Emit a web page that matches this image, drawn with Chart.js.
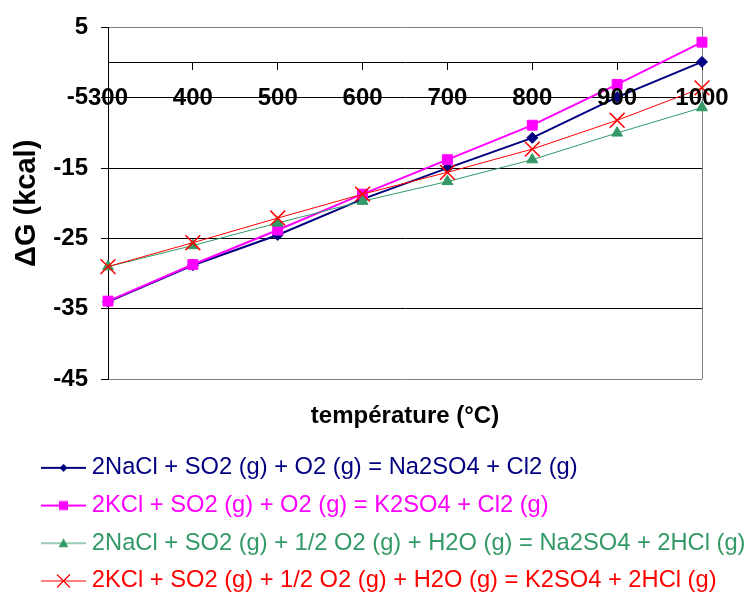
<!DOCTYPE html>
<html>
<head>
<meta charset="utf-8">
<script src="https://cdn.jsdelivr.net/npm/chart.js@4/dist/chart.umd.min.js"></script>
<style>
  html, body { margin: 0; padding: 0; background: #ffffff; }
  #wrap { width: 748px; height: 594px; }
</style>
</head>
<body>
<div id="wrap"><canvas id="c" width="748" height="594"></canvas></div>
<script>
const categories = ['300', '400', '500', '600', '700', '800', '900', '1000'];
const seriesNames = [
  '2NaCl + SO2 (g) + O2 (g) = Na2SO4 + Cl2 (g)',
  '2KCl + SO2 (g) + O2 (g) = K2SO4 + Cl2 (g)',
  '2NaCl + SO2 (g) + 1/2 O2 (g) + H2O (g) = Na2SO4 + 2HCl (g)',
  '2KCl + SO2 (g) + 1/2 O2 (g) + H2O (g) = K2SO4 + 2HCl (g)'
];
const naclCl2 = [-34.0, -28.8, -24.5, -19.4, -15.0, -10.7, -4.9, 0.1];
const kclCl2 = [-33.9, -28.7, -23.8, -18.7, -13.8, -8.9, -3.1, 2.9];
const naclHCl = [-29.0, -26.0, -22.8, -19.7, -16.9, -13.8, -10.0, -6.4];
const kclHCl = [-29.0, -25.6, -22.1, -18.7, -15.6, -12.3, -8.2, -3.6];
const yTicks = { min: -45, max: 5, step: 10 };
const xTitle = 'température (°C)';
const yTitle = 'ΔG (kcal)';

const FONT = "Arial, 'Liberation Sans', sans-serif";
const colors = ['#000080', '#FF00FF', '#339966', '#FF0000'];
const lineWidths = [2, 2, 1, 1];
const styles = ['diamond', 'square', 'triangle', 'x'];

function legendIcon(color, lw, style) {
  const cv = document.createElement('canvas');
  cv.width = 71; cv.height = 24;
  const g = cv.getContext('2d');
  g.strokeStyle = color; g.fillStyle = color; g.lineWidth = lw;
  g.beginPath(); g.moveTo(26, 12); g.lineTo(71, 12); g.stroke();
  const cx = 48.5, cy = 12;
  g.beginPath();
  if (style === 'diamond') {
    g.moveTo(cx, cy - 4); g.lineTo(cx + 4, cy); g.lineTo(cx, cy + 4); g.lineTo(cx - 4, cy); g.closePath(); g.fill();
  } else if (style === 'square') {
    g.rect(cx - 4.5, cy - 4.5, 9, 9); g.fill();
  } else if (style === 'triangle') {
    g.moveTo(cx, cy - 5); g.lineTo(cx + 4.8, cy + 4); g.lineTo(cx - 4.8, cy + 4); g.closePath(); g.fill();
  } else {
    g.lineWidth = 1.2;
    g.moveTo(cx - 6.5, cy - 6.5); g.lineTo(cx + 6.5, cy + 6.5);
    g.moveTo(cx + 6.5, cy - 6.5); g.lineTo(cx - 6.5, cy + 6.5); g.stroke();
  }
  return cv;
}
const icons = colors.map((c, i) => legendIcon(c, lineWidths[i], styles[i]));

const datasets = [
  { label: seriesNames[0], data: naclCl2, borderColor: colors[0], backgroundColor: colors[0], borderWidth: 2,
    pointStyle: 'rectRot', pointRadius: 5.5, pointBorderWidth: 1, pointBorderColor: colors[0], pointBackgroundColor: colors[0], order: 4 },
  { label: seriesNames[1], data: kclCl2, borderColor: colors[1], backgroundColor: colors[1], borderWidth: 2,
    pointStyle: 'rect', pointRadius: 7, pointBorderWidth: 1, pointBorderColor: colors[1], pointBackgroundColor: colors[1], order: 3 },
  { label: seriesNames[2], data: naclHCl, borderColor: colors[2], backgroundColor: colors[2], borderWidth: 1,
    pointStyle: 'triangle', pointRadius: 6.3, pointBorderWidth: 1, pointBorderColor: colors[2], pointBackgroundColor: colors[2], order: 2 },
  { label: seriesNames[3], data: kclHCl, borderColor: colors[3], backgroundColor: colors[3], borderWidth: 1,
    pointStyle: 'crossRot', pointRadius: 10.5, pointBorderWidth: 1.5, pointBorderColor: colors[3], pointBackgroundColor: colors[3], order: 1 }
];
datasets.forEach(d => { d.clip = false; d.tension = 0; d.fill = false; d.yAxisID = 'y'; });

new Chart(document.getElementById('c'), {
  type: 'line',
  data: { labels: categories, datasets },
  options: {
    responsive: false,
    animation: false,
    events: [],
    devicePixelRatio: 1,
    layout: { padding: { left: 7, right: 0, top: 23, bottom: 0 } },
    scales: {
      x: {
        type: 'category',
        position: { y: 0 },
        offset: false,
        border: { display: true, color: '#000000', width: 1 },
        grid: {
          drawOnChartArea: true,
          color: (ctx) => (ctx.index === categories.length - 1 ? '#808080' : 'rgba(0,0,0,0)'),
          tickColor: '#000000',
          tickLength: 7,
          lineWidth: 1
        },
        ticks: {
          z: 1,
          color: '#000000',
          font: { family: FONT, size: 24, weight: 'bold' },
          padding: 14,
          autoSkip: false,
          maxRotation: 0,
          minRotation: 0
        },
        title: { display: false }
      },
      y: {
        type: 'linear',
        position: 'left',
        min: yTicks.min,
        max: yTicks.max,
        border: { display: true, color: '#000000', width: 1 },
        grid: {
          color: (ctx) => (ctx.tick && (ctx.tick.value === yTicks.max || ctx.tick.value === yTicks.min) ? '#808080' : '#000000'),
          tickColor: '#000000',
          tickLength: 7,
          lineWidth: 1
        },
        ticks: {
          stepSize: yTicks.step,
          color: '#000000',
          font: { family: FONT, size: 24, weight: 'bold' },
          padding: 13
        },
        title: {
          display: true,
          text: yTitle,
          color: '#000000',
          font: { family: FONT, size: 29, weight: 'bold' },
          padding: { top: 3, bottom: 0 }
        },
        afterFit: (scale) => { scale.width = 101; }
      },
      yR: {
        type: 'linear',
        position: 'right',
        display: true,
        grid: { display: false, drawTicks: false },
        border: { display: false },
        ticks: { display: false },
        afterFit: (scale) => { scale.width = 46; }
      }
    },
    plugins: {
      tooltip: { enabled: false },
      title: {
        display: true,
        position: 'bottom',
        text: xTitle,
        weight: 500,
        fullSize: false,
        color: '#000000',
        font: { family: FONT, size: 24, weight: 'bold' },
        padding: { top: 23, bottom: 11 }
      },
      legend: {
        display: true,
        position: 'bottom',
        align: 'start',
        maxHeight: 152,
        labels: {
          usePointStyle: true,
          pointStyleWidth: 59,
          padding: 14,
          font: { family: FONT, size: 23.7 },
          generateLabels: () => seriesNames.map((name, i) => ({
            text: name,
            fontColor: colors[i],
            fillStyle: colors[i],
            strokeStyle: colors[i],
            lineWidth: 0,
            pointStyle: icons[i],
            hidden: false,
            datasetIndex: i
          }))
        }
      }
    }
  }
});
</script>
</body>
</html>
